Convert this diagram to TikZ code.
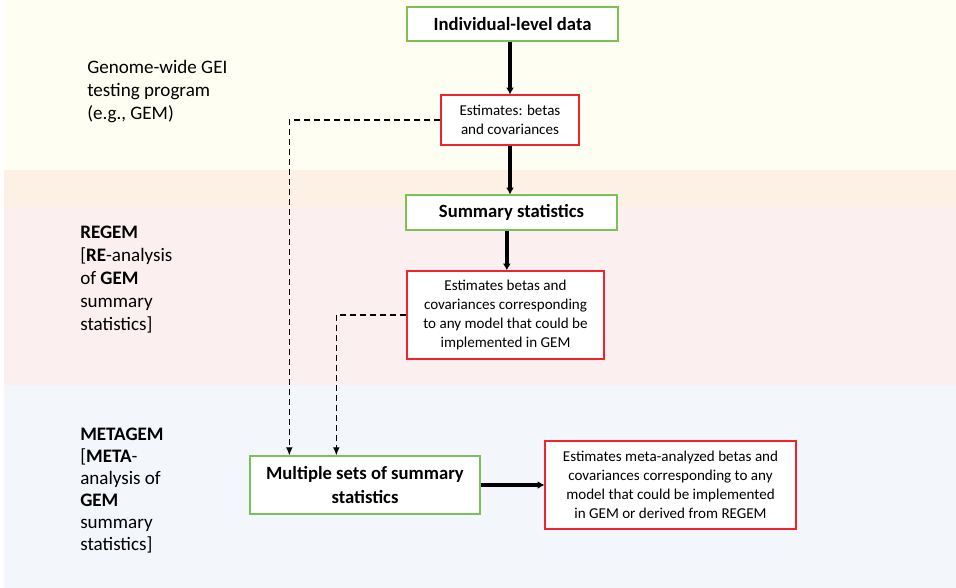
\documentclass[tikz,border=0pt]{standalone}
\usepackage{fontspec}
\setmainfont{Carlito}
\usepackage{xcolor}
\usetikzlibrary{arrows.meta}

\definecolor{bandyellow}{HTML}{FFFEF2}
\definecolor{bandpeach}{HTML}{FDF1E6}
\definecolor{bandpink}{HTML}{FCEFEF}
\definecolor{bandblue}{HTML}{F3F6FB}
\definecolor{boxgreen}{HTML}{7CC05A}
\definecolor{boxred}{HTML}{F4222A}

\begin{document}
\begin{tikzpicture}[x=0.75pt,y=-0.75pt,
    greenbox/.style={draw=boxgreen,line width=1pt,fill=white,align=center,font=\fontsize{14}{17.5}\selectfont\bfseries},
    redbox/.style={draw=boxred,line width=1pt,fill=white,align=center,font=\fontsize{11.3}{14.3}\selectfont},
    flowarrow/.style={line width=2.7pt,-{Latex[length=5pt,width=6pt]}},
    dasharrow/.style={line width=0.8pt,dash pattern=on 4.5pt off 3pt,-{Latex[length=6pt,width=5pt]}},
    sidetext/.style={anchor=north west,inner sep=0pt,align=left,font=\fontsize{14.3}{17.2}\selectfont}]
    \useasboundingbox (0,0) rectangle (956,588);
    % background bands
    \fill[bandyellow] (4,0) rectangle (956,170);
    \fill[bandpeach] (4,170) rectangle (956,207);
    \fill[bandpink] (4,207) rectangle (956,385);
    \fill[bandblue] (4,385) rectangle (956,588);

    % side labels
    \node[sidetext] (gemtxt) at (87,60) {Genome-wide GEI\\testing program\\(e.g., GEM)};
    \node[sidetext] (regemtxt) at (80,226) {\textbf{REGEM}\\{[}\textbf{RE}-analysis\\of \textbf{GEM}\\summary\\statistics]};
    \node[sidetext,font=\fontsize{14.3}{16.4}\selectfont] (metatxt) at (80,428) {\textbf{METAGEM}\\{[}\textbf{META}-\\analysis of\\\textbf{GEM}\\summary\\statistics]};

    % boxes
    \node[greenbox,minimum width=211*0.75pt,minimum height=34*0.75pt] (indiv) at (512.5,24) {Individual-level data};
    \node[redbox,minimum width=138*0.75pt,minimum height=50*0.75pt] (est) at (510,120) {Estimates: betas\\and covariances};
    \node[greenbox,minimum width=211*0.75pt,minimum height=35*0.75pt] (summ) at (511.5,212.5) {Summary statistics};
    \node[redbox,minimum width=197*0.75pt,minimum height=88*0.75pt] (regest) at (505.5,315) {Estimates betas and\\covariances corresponding\\to any model that could be\\implemented in GEM};
    \node[greenbox,minimum width=230*0.75pt,minimum height=58*0.75pt] (multi) at (365,485) {Multiple sets of summary\\statistics};
    \node[redbox,minimum width=251*0.75pt,minimum height=88*0.75pt] (metaest) at (670.5,485) {Estimates meta-analyzed betas and\\covariances corresponding to any\\model that could be implemented\\in GEM or derived from REGEM};

    % connectors
    \draw[flowarrow] (indiv.south -| est.north) -- (est.north);
    \draw[flowarrow] (est.south) -- (est.south |- summ.north);
    \draw[flowarrow] ([xshift=1pt]summ.south -| regest.north) -- ([xshift=1pt]regest.north);
    \draw[flowarrow] (multi.east) -- (metaest.west);
    \draw[dasharrow] (est.west) -| ([xshift=30pt]multi.north west);
    \draw[dasharrow] (regest.west) -| ([xshift=65.25pt]multi.north west);
\end{tikzpicture}
\end{document}
